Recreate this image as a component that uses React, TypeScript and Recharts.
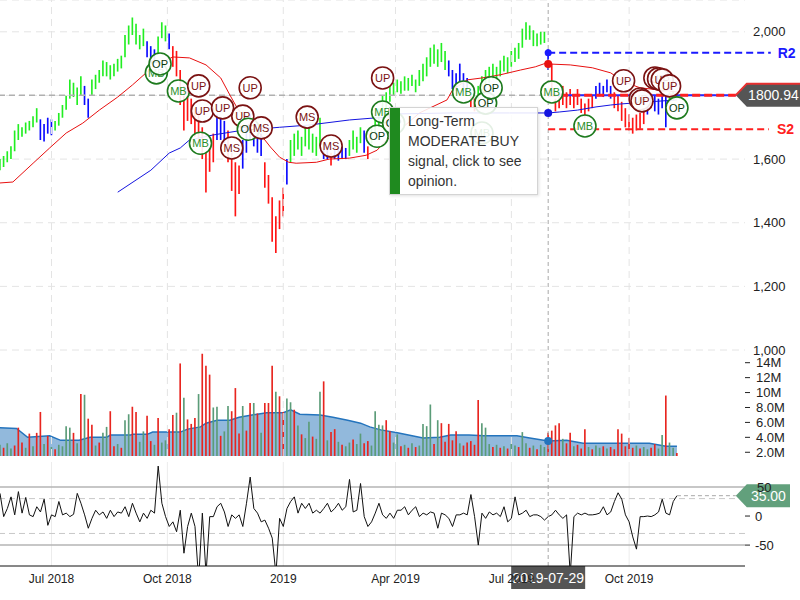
import React from "react";
import {
  ComposedChart,
  Bar,
  Line,
  Area,
  Scatter,
  XAxis,
  YAxis,
  CartesianGrid,
  ReferenceLine,
  ReferenceDot,
  Cell,
} from "recharts";

const FONT = "'Liberation Sans', Arial, Helvetica, sans-serif";
const W = 800;

// x is a trading-session index (0 = 2018-05-22); one bar per 2 sessions
const STEP = 2;
const X_DOMAIN: [number, number] = [0, 405];
const monthTicks = [28, 91, 154, 215, 278, 342];
const monthLabels = ["Jul 2018", "Oct 2018", "2019", "Apr 2019", "Jul 2019", "Oct 2019"];
const cursorIdx = 298;
const cursorDate = "2019-07-29";
const lastClose = 1800.94;
const lastOsc = 35;
const levelR2 = 1934;
const levelS2 = 1694;

const highs = [
  1600, 1610, 1625, 1640, 1690, 1710, 1700, 1715, 1720, 1735,
  1760, 1725, 1710, 1730, 1725, 1720, 1745, 1770, 1800, 1850,
  1840, 1825, 1860, 1830, 1790, 1850, 1865, 1880, 1910, 1905,
  1895, 1900, 1915, 1925, 1990, 2020, 2045, 2025, 1990, 2010,
  1970, 1955, 1945, 1985, 2030, 2020, 1995, 1955, 1940, 1880,
  1830, 1820, 1790, 1760, 1750, 1700, 1620, 1640, 1680, 1740,
  1730, 1720, 1690, 1620, 1590, 1580, 1660, 1700, 1740, 1720,
  1700, 1680, 1590, 1550, 1480, 1420, 1470, 1510, 1600, 1660,
  1680, 1690, 1670, 1700, 1700, 1680, 1670, 1730, 1650, 1640,
  1620, 1640, 1630, 1640, 1635, 1660, 1690, 1670, 1700, 1690,
  1640, 1700, 1730, 1760, 1800, 1810, 1830, 1840, 1850, 1845,
  1860, 1855, 1865, 1850, 1880, 1900, 1920, 1950, 1960, 1945,
  1965, 1940, 1910, 1880, 1870, 1900, 1870, 1855, 1800, 1790,
  1830, 1860, 1880, 1890, 1900, 1890, 1910, 1925, 1920, 1940,
  1950, 1965, 2010, 2030, 2020, 2005, 1995, 2000, 2000, 1945,
  1900, 1790, 1800, 1830, 1810, 1820, 1800, 1820, 1790, 1775,
  1790, 1800, 1830, 1840, 1830, 1850, 1830, 1810, 1800, 1780,
  1760, 1740, 1730, 1740, 1745, 1760, 1790, 1800, 1800, 1790,
  1800, 1800, 1810, 1815, 1810,
];

const lows = [
  1565, 1575, 1590, 1600, 1625, 1660, 1670, 1680, 1690, 1700,
  1715, 1660, 1655, 1680, 1675, 1690, 1705, 1730, 1755, 1790,
  1795, 1770, 1800, 1770, 1730, 1800, 1820, 1840, 1860, 1860,
  1850, 1860, 1875, 1885, 1920, 1960, 1990, 1960, 1945, 1955,
  1920, 1895, 1900, 1930, 1980, 1970, 1945, 1890, 1860, 1770,
  1690, 1720, 1710, 1670, 1650, 1600, 1495, 1560, 1590, 1660,
  1660, 1650, 1590, 1500, 1420, 1490, 1570, 1620, 1660, 1640,
  1620, 1610, 1510, 1460, 1340, 1305, 1380, 1420, 1520, 1590,
  1610, 1630, 1610, 1640, 1630, 1620, 1610, 1640, 1600, 1600,
  1580, 1600, 1595, 1600, 1600, 1610, 1630, 1620, 1650, 1620,
  1600, 1650, 1680, 1700, 1740, 1760, 1780, 1800, 1810, 1805,
  1815, 1815, 1830, 1810, 1830, 1845, 1860, 1890, 1900, 1890,
  1905, 1880, 1860, 1820, 1815, 1840, 1810, 1805, 1760, 1750,
  1780, 1800, 1830, 1840, 1850, 1850, 1860, 1875, 1870, 1890,
  1905, 1915, 1950, 1975, 1975, 1955, 1955, 1960, 1965, 1880,
  1800, 1750, 1760, 1770, 1760, 1770, 1760, 1770, 1745, 1730,
  1750, 1760, 1790, 1800, 1795, 1810, 1790, 1760, 1750, 1720,
  1700, 1690, 1680, 1690, 1695, 1710, 1740, 1760, 1750, 1740,
  1760, 1700, 1780, 1785, 1790,
];

// g = up trend, b = neutral, r = down trend (runs of bars)
const trendRuns: [string, number][] = [
  ["g", 11], ["b", 4], ["g", 8], ["b", 2], ["g", 15], ["b", 3], ["g", 3], ["b", 1],
  ["r", 12], ["b", 3], ["r", 4], ["b", 6], ["r", 6], ["b", 1], ["g", 9], ["b", 2],
  ["r", 1], ["b", 4], ["g", 4], ["b", 1], ["r", 1], ["g", 21], ["b", 6], ["r", 2],
  ["g", 19], ["b", 1], ["r", 12], ["b", 5], ["r", 9], ["b", 1], ["r", 1], ["b", 4], ["g", 3],
];

// volume in millions
const volumes = [
  3.0, 2.6, 3.2, 2.5, 2.9, 5.3, 3.3, 2.6, 4.5, 2.8,
  4.6, 7.4, 3.1, 4.2, 2.7, 2.4, 3.0, 2.8, 5.5, 5.3,
  4.6, 3.2, 9.8, 9.7, 6.5, 5.7, 2.9, 3.3, 4.6, 5.4,
  7.5, 2.8, 3.1, 2.6, 6.3, 7.1, 8.1, 7.4, 3.4, 4.8,
  6.9, 3.5, 3.0, 6.6, 3.3, 3.6, 5.1, 7.0, 7.3, 13.9,
  9.3, 6.4, 5.8, 6.6, 9.8, 15.2, 13.6, 12.4, 8.0, 8.1,
  4.2, 4.8, 8.2, 7.5, 10.6, 4.5, 8.2, 4.9, 8.6, 8.6,
  7.2, 4.6, 8.6, 8.6, 13.6, 10.1, 9.5, 7.4, 9.2, 8.7,
  7.7, 5.6, 4.4, 3.9, 6.1, 4.1, 3.8, 10.1, 11.5, 3.6,
  4.7, 5.1, 3.4, 3.0, 2.8, 3.3, 3.7, 3.1, 4.5, 3.2,
  3.5, 2.9, 7.5, 5.7, 5.6, 6.3, 4.8, 3.3, 4.4, 2.8,
  3.0, 2.6, 3.2, 2.7, 2.9, 5.8, 5.5, 8.4, 3.1, 6.3,
  5.9, 3.4, 5.8, 3.6, 4.8, 3.2, 2.9, 3.3, 3.5, 3.0,
  9.0, 5.9, 5.3, 3.1, 2.7, 3.0, 2.6, 2.8, 2.5, 3.1,
  2.9, 2.7, 4.7, 3.2, 2.6, 2.9, 2.4, 3.0, 2.7, 4.6,
  4.9, 5.6, 5.9, 3.8, 3.2, 4.6, 2.8, 3.0, 2.5, 5.1,
  2.7, 2.4, 2.9, 2.6, 2.8, 2.5, 2.7, 2.4, 5.1, 4.5,
  2.8, 3.9, 2.6, 2.9, 2.5, 2.7, 2.4, 2.6, 3.1, 2.5,
  4.3, 9.6, 3.3, 2.6, 1.9,
];

const volumeSide =
  "grggrrrgrg" + "rrgrgrgggg" + "rgrgrrgrgg" + "rrgrggrrgg" + "rrgrggrrgr" +
  "grrrgrrrgg" + "rggrrrgrrg" + "rgrrrgrrgg" + "rgrggrggrg" + "rrgrggrggr" +
  "rggggrrggr" + "grgrggggrg" + "rrrrrgrrrr" + "rgggrgrgrg" + "grggrgrggr" +
  "rrrgrrgrrr" + "grggrgrrrr" + "rrrgrggrrg" + "grggr";

const oscillator = [
  39, -1, 13, 33, 2, 42, 5, 32, 2, -1,
  16, 7, 29, -16, 2, -1, 25, 2, 5, -1,
  3, 39, 22, 2, -21, -4, 10, 2, 7, -4,
  10, -1, 7, 5, 16, -1, 22, 5, -10, 5,
  -4, 10, 5, 86, 22, -1, -18, -10, -27, 10,
  -64, -18, 5, -18, -110, 5, -100, -1, -1, 16,
  22, 7, -18, 2, -4, 2, -18, 22, 67, 13,
  5, -10, -7, -21, -38, -100, -4, -18, 13, 25,
  33, 5, 22, 13, 22, 5, 10, 5, 13, 22,
  7, 13, 22, 10, 16, 63, 7, 10, 56, -1,
  -18, -10, 5, 22, 2, -4, 5, -4, 10, 10,
  16, 2, 10, 16, -1, 5, 2, 7, 5, -21,
  5, 2, -4, -18, 2, 2, 5, 2, 37, -1,
  -50, 5, -4, 7, 2, 5, -1, 16, -10, -4,
  33, 2, 5, 10, -1, 2, 2, -1, -7, -1,
  2, 10, 2, -4, 2, -100, -1, 5, 2, 5,
  2, 2, 3, 5, 16, 2, 7, 25, 40, 29,
  2, -10, -36, -57, -1, -1, 0, -1, 2, 7,
  29, 5, 2, 25, 35,
];

// [session index, value]
const slowAverage: [number, number][] = [
  [0, 1525], [7, 1528], [18, 1587], [27, 1635], [36, 1682], [45, 1713], [54, 1754],
  [64, 1795], [72, 1833], [80, 1874], [87, 1902], [94, 1921], [103, 1918], [112, 1896],
  [120, 1855], [125, 1801], [129, 1760], [134, 1723], [141, 1682], [147, 1638],
  [152, 1606], [157, 1590], [161, 1587], [172, 1590], [179, 1600], [190, 1603],
  [199, 1612], [205, 1628], [210, 1660], [219, 1700], [228, 1745], [243, 1786],
  [246, 1817], [254, 1849], [262, 1855], [272, 1865], [283, 1880], [291, 1890],
  [297, 1902], [298, 1899], [310, 1896], [322, 1887], [332, 1871], [339, 1843],
  [348, 1824], [359, 1817], [368, 1811],
];

const longAverage: [number, number][] = [
  [64, 1496], [82, 1565], [92, 1619], [98, 1635], [103, 1660], [116, 1676], [129, 1688],
  [140, 1694], [152, 1700], [168, 1707], [190, 1723], [203, 1729], [210, 1731],
  [217, 1742], [245, 1745], [277, 1745], [298, 1745], [304, 1748], [314, 1754],
  [324, 1764], [332, 1770], [337, 1773], [353, 1780], [368, 1786],
];

const volumeAverage: [number, number][] = [
  [0, 5.3], [9, 5.2], [15, 4.0], [27, 4.2], [33, 3.6], [43, 3.6], [49, 4.0], [58, 4.0],
  [60, 4.3], [71, 4.3], [72, 4.4], [80, 4.4], [83, 4.7], [98, 4.7], [102, 5.1],
  [109, 5.4], [112, 5.9], [118, 6.3], [125, 6.3], [130, 6.7], [137, 7.0], [145, 7.3],
  [154, 7.3], [158, 7.7], [163, 7.1], [174, 7.0], [181, 6.7], [189, 6.3], [196, 5.9],
  [201, 5.4], [207, 5.0], [216, 4.6], [230, 3.9], [239, 4.0], [245, 4.3], [255, 4.3],
  [263, 4.2], [281, 4.2], [288, 3.9], [298, 3.5], [308, 3.6], [317, 3.2], [353, 3.2],
  [362, 2.8], [368, 2.8],
];

const signals: [number, number, string][] = [
  [85, 1871, "MB"], [87, 1899, "OP"], [97, 1814, "MB"], [108, 1830, "UP"],
  [109, 1650, "MB"], [110, 1751, "UP"], [121, 1761, "UP"], [126, 1635, "MS"],
  [132, 1735, "UP"], [135, 1694, "OP"], [136, 1824, "UP"], [142, 1698, "MS"],
  [167, 1732, "MS"], [180, 1641, "MS"], [205, 1672, "OP"], [208, 1855, "UP"],
  [208, 1748, "MB"], [214, 1713, "OP"], [252, 1811, "MB"], [262, 1682, "MB"],
  [264, 1776, "OP"], [267, 1824, "OP"], [300, 1811, "MB"], [318, 1704, "MB"],
  [339, 1846, "UP"], [348, 1789, "UP"], [349, 1783, "UP"], [356, 1855, "UP"],
  [358, 1852, "UP"], [360, 1849, "UP"], [364, 1830, "UP"], [368, 1761, "OP"],
];

const trendColor: Record<string, string> = { g: "#22ee22", b: "#0a0aff", r: "#ff1414" };
const volColor: Record<string, string> = { g: "#5b9c78", r: "#e8251f" };

const trend = trendRuns.flatMap(([c, n]) => Array(n).fill(c));
const priceData = highs.map((h, k) => ({ i: k * STEP, r: [lows[k], h], c: trend[k] }));
const volData = volumes.map((v, k) => ({ i: k * STEP, v, c: volumeSide[k] }));
const oscData = oscillator.map((o, k) => ({ i: k * STEP, o }));
const slowData = slowAverage.map(([i, p]) => ({ i, p }));
const longData = longAverage.map(([i, p]) => ({ i, p }));
const volAvgData = volumeAverage.map(([i, v]) => ({ i, v }));
const signalData = signals.map(([i, p, t]) => ({ i, p, t }));

const tickStyle = { fontSize: 13, fill: "#222", fontFamily: FONT };

function SignalMarker(props: any) {
  const { cx, cy, payload } = props;
  if (cx == null || cy == null) return null;
  const bull = payload.t === "OP" || payload.t === "MB";
  const stroke = bull ? "#1d7a1d" : "#7a1212";
  const text = payload.t === "OP" ? "#0b3a0b" : bull ? "#2b8f2b" : "#7a1212";
  return (
    <g>
      <circle cx={cx} cy={cy} r={11} fill="rgba(255,255,255,0.9)" stroke={stroke} strokeWidth={1.6} />
      <text x={cx} y={cy} dy={4} textAnchor="middle" fontSize={11} fill={text} fontFamily={FONT}>
        {payload.t}
      </text>
    </g>
  );
}

function badge(text: string, fill: string, right: number, topLine?: string) {
  return (props: any) => {
    const vb = props.viewBox || {};
    const tip = (vb.x ?? 0) + (vb.width ?? 0);
    const y = vb.y ?? 0;
    const h = 23;
    return (
      <g>
        <path
          d={`M${tip},${y} L${tip + 11},${y - h / 2} L${right},${y - h / 2} L${right},${y + h / 2} L${tip + 11},${y + h / 2} Z`}
          fill={fill}
        />
        {topLine && (
          <path d={`M${tip},${y} L${tip + 11},${y - h / 2} L${right},${y - h / 2}`} stroke={topLine} strokeWidth={2} fill="none" />
        )}
        <text x={(tip + 11 + right) / 2} y={y} dy={5} textAnchor="middle" fill="#fff" fontSize={14} fontFamily={FONT}>
          {text}
        </text>
      </g>
    );
  };
}

function dateBadge(props: any) {
  const vb = props.viewBox || {};
  const x = vb.x ?? 0;
  const y = (vb.y ?? 0) + (vb.height ?? 0);
  return (
    <g>
      <rect x={x - 37} y={y} width={74} height={23} fill="#555" />
      <text x={x} y={y + 17} textAnchor="middle" fill="#fff" fontSize={14} fontFamily={FONT}>
        {cursorDate}
      </text>
    </g>
  );
}

function PricePanel() {
  return (
    <ComposedChart width={W} height={360} data={priceData} margin={{ top: 0, right: 0, left: 0, bottom: 10 }}>
      <XAxis dataKey="i" type="number" domain={X_DOMAIN} ticks={monthTicks} hide allowDataOverflow />
      <YAxis
        orientation="right"
        width={55}
        domain={[1000, 2100]}
        ticks={[1000, 1200, 1400, 1600, 2000]}
        interval={0}
        tickFormatter={(v) => v.toLocaleString("en-US")}
        axisLine={false}
        tickLine={false}
        tick={tickStyle}
        allowDataOverflow
      />
      <CartesianGrid vertical={false} stroke="#e4e4e4" strokeDasharray="7 5" />
      <ReferenceLine y={1800} stroke="#e4e4e4" strokeDasharray="7 5" />
      {monthTicks.map((t) => (
        <ReferenceLine key={t} x={t} stroke="#e4e4e4" strokeDasharray="7 5" />
      ))}
      <ReferenceLine y={lastClose} stroke="#b0b0b0" strokeWidth={1.5} strokeDasharray="6 4" />
      <ReferenceLine x={cursorIdx} stroke="#a8a8a8" strokeDasharray="4 3" />
      <Line data={slowData} dataKey="p" stroke="#e81010" strokeWidth={1} dot={false} activeDot={false} isAnimationActive={false} />
      <Line data={longData} dataKey="p" stroke="#1414e0" strokeWidth={1} dot={false} activeDot={false} isAnimationActive={false} />
      <Bar dataKey="r" barSize={3} isAnimationActive={false}>
        {priceData.map((d) => (
          <Cell key={d.i} fill={trendColor[d.c]} />
        ))}
      </Bar>
      <ReferenceLine
        segment={[{ x: cursorIdx, y: levelR2 }, { x: 419, y: levelR2 }]}
        stroke="#1a1aff"
        strokeWidth={2}
        strokeDasharray="7 4"
        ifOverflow="visible"
        label={{ value: "R2", position: "right", offset: 7, fill: "#1a1aff", fontWeight: "bold", fontSize: 14, fontFamily: FONT }}
      />
      <ReferenceLine
        segment={[{ x: cursorIdx, y: levelS2 }, { x: 418, y: levelS2 }]}
        stroke="#ff2020"
        strokeWidth={2}
        strokeDasharray="7 4"
        ifOverflow="visible"
        label={{ value: "S2", position: "right", offset: 8, fill: "#ff2020", fontWeight: "bold", fontSize: 14, fontFamily: FONT }}
      />
      <ReferenceLine
        segment={[{ x: cursorIdx, y: lastClose }, { x: 400, y: lastClose }]}
        stroke="#2a2aff"
        strokeWidth={2}
        ifOverflow="visible"
      />
      <ReferenceLine
        segment={[{ x: cursorIdx, y: lastClose }, { x: 400, y: lastClose }]}
        stroke="#ff2020"
        strokeWidth={3}
        strokeDasharray="8 4"
        ifOverflow="visible"
        label={badge(lastClose.toFixed(2), "#555555", W, "#e83030")}
      />
      <ReferenceDot x={cursorIdx} y={levelR2} r={3.5} fill="#1a1aff" stroke="none" />
      <ReferenceDot x={cursorIdx} y={1899} r={4} fill="#e81010" stroke="none" />
      <ReferenceDot x={cursorIdx} y={1745} r={4} fill="#1414e0" stroke="none" />
      <Scatter data={signalData} dataKey="p" shape={SignalMarker} isAnimationActive={false} />
    </ComposedChart>
  );
}

function VolumePanel() {
  return (
    <ComposedChart width={W} height={112} data={volData} margin={{ top: 0, right: 0, left: 0, bottom: 9 }}>
      <XAxis dataKey="i" type="number" domain={X_DOMAIN} hide allowDataOverflow />
      <YAxis
        orientation="right"
        width={55}
        domain={[1.5, 15.3]}
        ticks={[2, 4, 6, 8, 10, 12, 14]}
        interval={0}
        tickFormatter={(v) => (v >= 10 ? `${v}M` : `${v.toFixed(1)}M`)}
        axisLine={false}
        tickLine={{ stroke: "#222" }}
        tickSize={5}
        tickMargin={6}
        tick={tickStyle}
        allowDataOverflow
      />
      {monthTicks.map((t) => (
        <ReferenceLine key={t} x={t} stroke="#e4e4e4" strokeDasharray="7 5" />
      ))}
      <Bar dataKey="v" barSize={2} isAnimationActive={false}>
        {volData.map((d) => (
          <Cell key={d.i} fill={volColor[d.c]} />
        ))}
      </Bar>
      <Area
        data={volAvgData}
        dataKey="v"
        type="linear"
        stroke="#2474bd"
        strokeWidth={1.5}
        fill="#4a8ac4"
        fillOpacity={0.6}
        dot={false}
        activeDot={false}
        isAnimationActive={false}
      />
      <ReferenceLine x={cursorIdx} stroke="#a8a8a8" strokeDasharray="4 3" />
      <ReferenceDot x={cursorIdx} y={3.5} r={4} fill="#2474bd" stroke="none" />
    </ComposedChart>
  );
}

function OscPanel() {
  return (
    <ComposedChart width={W} height={134} data={oscData} margin={{ top: 0, right: 0, left: 0, bottom: 0 }}>
      <XAxis
        dataKey="i"
        type="number"
        domain={X_DOMAIN}
        ticks={monthTicks}
        interval={0}
        tickFormatter={(v) => monthLabels[monthTicks.indexOf(v)] ?? ""}
        axisLine={{ stroke: "#111" }}
        tickLine={false}
        tick={{ fontSize: 12, fill: "#222", fontFamily: FONT }}
        height={30}
        allowDataOverflow
      />
      <YAxis
        orientation="right"
        width={55}
        domain={[-86, 93]}
        ticks={[-50, 0]}
        interval={0}
        axisLine={false}
        tickLine={{ stroke: "#222" }}
        tickSize={5}
        tickMargin={5}
        tick={tickStyle}
        allowDataOverflow
      />
      {monthTicks.map((t) => (
        <ReferenceLine key={t} x={t} stroke="#ececec" />
      ))}
      <ReferenceLine
        y={50}
        stroke="#b4b4b4"
        strokeWidth={1.5}
        label={{ value: "50", position: "right", offset: 12, fill: "#222", fontSize: 13, fontFamily: FONT }}
      />
      <ReferenceLine y={-50} stroke="#b4b4b4" strokeWidth={1.5} />
      <ReferenceLine y={30} stroke="#c8c8c8" strokeDasharray="6 4" />
      <ReferenceLine y={-30} stroke="#c8c8c8" strokeDasharray="6 4" />
      <Line dataKey="o" stroke="#111" strokeWidth={1} dot={false} activeDot={false} isAnimationActive={false} />
      <ReferenceLine x={cursorIdx} stroke="#a8a8a8" strokeDasharray="4 3" label={dateBadge} />
      <ReferenceLine
        segment={[{ x: 368, y: lastOsc }, { x: 400, y: lastOsc }]}
        stroke="#a8a8a8"
        strokeDasharray="4 3"
        ifOverflow="visible"
        label={badge(lastOsc.toFixed(2), "#62a07c", 790)}
      />
    </ComposedChart>
  );
}

function SignalTip() {
  return (
    <div
      style={{
        position: "absolute",
        left: 389,
        top: 107,
        width: 149,
        height: 88,
        boxSizing: "border-box",
        background: "rgba(255,255,255,0.88)",
        border: "1px solid #d4d4d4",
        boxShadow: "1px 1px 3px rgba(0,0,0,0.12)",
        fontFamily: FONT,
        fontSize: 14,
        lineHeight: "20px",
        color: "#333",
      }}
    >
      <div style={{ position: "absolute", left: 0, top: 0, bottom: 0, width: 10, background: "#1f8a1f" }} />
      <div style={{ position: "absolute", left: 18, top: 3, whiteSpace: "nowrap" }}>
        Long-Term
        <br />
        MODERATE BUY
        <br />
        signal, click to see
        <br />
        opinion.
      </div>
    </div>
  );
}

export default function App() {
  return (
    <div style={{ position: "absolute", left: 0, top: 0, width: W, height: 600, background: "#fff", overflow: "hidden" }}>
      <div style={{ position: "absolute", left: 0, top: 0 }}>
        <PricePanel />
      </div>
      <div style={{ position: "absolute", left: 0, top: 353 }}>
        <VolumePanel />
      </div>
      <div style={{ position: "absolute", left: 0, top: 462 }}>
        <OscPanel />
      </div>
      <SignalTip />
    </div>
  );
}
